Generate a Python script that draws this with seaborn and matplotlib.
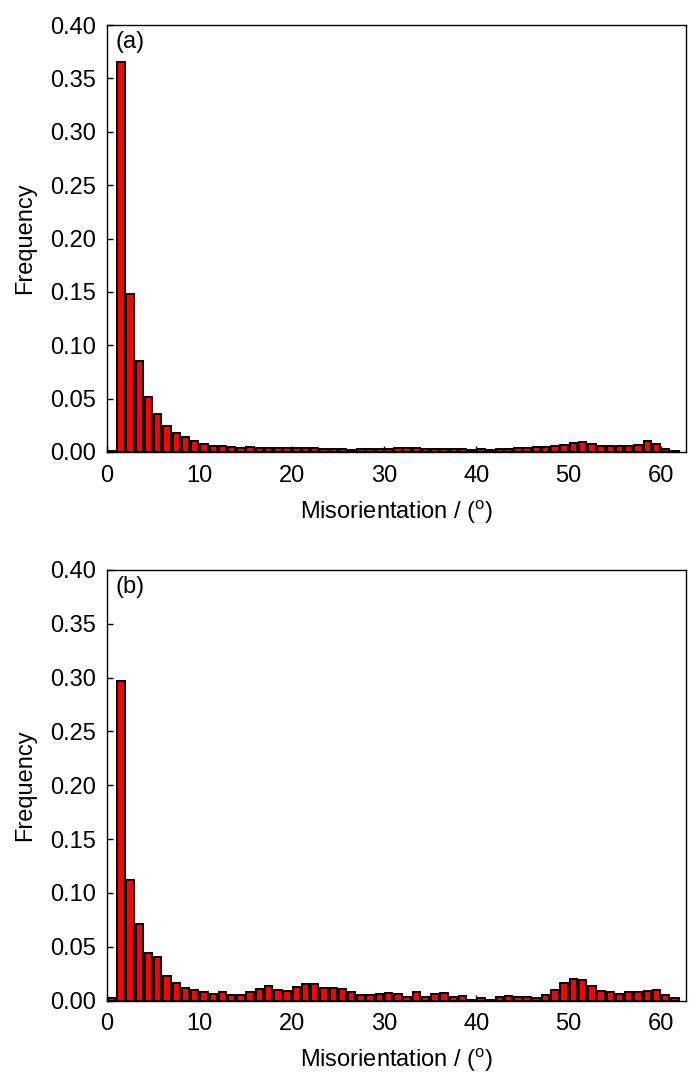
import numpy as np
import pandas as pd
import matplotlib
matplotlib.use("Agg")
import matplotlib.pyplot as plt
import seaborn as sns

# Bin centres of misorientation angle (degrees)
misorientation = [0.5, 1.5, 2.5, 3.5, 4.5, 5.5, 6.5, 7.5, 8.5, 9.5,
                  10.5, 11.5, 12.5, 13.5, 14.5, 15.5, 16.5, 17.5, 18.5, 19.5,
                  20.5, 21.5, 22.5, 23.5, 24.5, 25.5, 26.5, 27.5, 28.5, 29.5,
                  30.5, 31.5, 32.5, 33.5, 34.5, 35.5, 36.5, 37.5, 38.5, 39.5,
                  40.5, 41.5, 42.5, 43.5, 44.5, 45.5, 46.5, 47.5, 48.5, 49.5,
                  50.5, 51.5, 52.5, 53.5, 54.5, 55.5, 56.5, 57.5, 58.5, 59.5,
                  60.5, 61.5]

freq_a = [0.0010, 0.3655, 0.1480, 0.0850, 0.0515, 0.0356, 0.0248, 0.0180, 0.0141, 0.0103,
          0.0072, 0.0055, 0.0055, 0.0045, 0.0036, 0.0045, 0.0037, 0.0037, 0.0037, 0.0037,
          0.0037, 0.0037, 0.0037, 0.0031, 0.0031, 0.0028, 0.0022, 0.0028, 0.0028, 0.0028,
          0.0028, 0.0037, 0.0037, 0.0037, 0.0028, 0.0028, 0.0028, 0.0028, 0.0028, 0.0019,
          0.0028, 0.0019, 0.0028, 0.0028, 0.0037, 0.0037, 0.0047, 0.0047, 0.0056, 0.0066,
          0.0084, 0.0094, 0.0075, 0.0053, 0.0053, 0.0053, 0.0053, 0.0069, 0.0100, 0.0078,
          0.0028, 0.0006]

freq_b = [0.0019, 0.2967, 0.1124, 0.0714, 0.0445, 0.0400, 0.0225, 0.0160, 0.0118, 0.0093,
          0.0076, 0.0059, 0.0076, 0.0050, 0.0050, 0.0076, 0.0108, 0.0135, 0.0093, 0.0084,
          0.0127, 0.0149, 0.0149, 0.0115, 0.0115, 0.0109, 0.0078, 0.0047, 0.0047, 0.0056,
          0.0068, 0.0056, 0.0031, 0.0078, 0.0037, 0.0065, 0.0068, 0.0031, 0.0040, 0.0009,
          0.0019, 0.0009, 0.0031, 0.0040, 0.0031, 0.0031, 0.0022, 0.0050, 0.0099, 0.0164,
          0.0198, 0.0192, 0.0133, 0.0084, 0.0078, 0.0059, 0.0078, 0.0078, 0.0090, 0.0099,
          0.0050, 0.0019]

panel_labels = ["(a)", "(b)"]
y_ticks = [0.00, 0.05, 0.10, 0.15, 0.20, 0.25, 0.30, 0.35, 0.40]
x_ticks = [0, 10, 20, 30, 40, 50, 60]

sns.set_theme(style="white")
plt.rcParams['font.family'] = ['Liberation Sans', 'DejaVu Sans']
plt.rcParams['mathtext.fontset'] = 'custom'
plt.rcParams['mathtext.rm'] = 'Liberation Sans'

fig = plt.figure(figsize=(7.0, 10.86), dpi=100)
W, H = 700, 1086
boxes = [(107, 25, 686, 452), (107, 570, 686, 1000.5)]
FS = 17

for (x0, y0, x1, y1), freq, lab in zip(boxes, [freq_a, freq_b], panel_labels):
    ax = fig.add_axes([x0 / W, 1 - y1 / H, (x1 - x0) / W, (y1 - y0) / H])
    df = pd.DataFrame({"Misorientation": misorientation, "Frequency": freq})
    sns.barplot(data=df, x="Misorientation", y="Frequency", native_scale=True,
                color="#FF0000", saturation=1, edgecolor="black", linewidth=1.4,
                width=0.8, ax=ax)
    ax.set_xlim(0, 62.7)
    ax.set_ylim(0, 0.40)
    ax.set_yticks(y_ticks)
    ax.set_yticklabels([f"{v:.2f}" for v in y_ticks])
    ax.set_xticks(x_ticks)
    ax.set_xticklabels([str(v) for v in x_ticks])
    ax.tick_params(axis='both', direction='in', length=4, width=1, color='black',
                   labelsize=FS, labelcolor='black', top=False, right=False,
                   left=True, bottom=True)
    ax.tick_params(axis='y', pad=8)
    ax.tick_params(axis='x', pad=9)
    for s in ax.spines.values():
        s.set_visible(True)
        s.set_color('black')
        s.set_linewidth(1.0)
    ax.set_ylabel("Frequency", fontsize=FS, color='black', labelpad=10)
    ax.set_xlabel("Misorientation / ($^\\mathregular{o}$)", fontsize=FS, color='black', labelpad=8)
    ax.text(0.015, 0.985, lab, transform=ax.transAxes, ha='left', va='top',
            fontsize=FS, color='black')
    ax.grid(False)

fig.savefig("out.png", dpi=100, facecolor='white')
